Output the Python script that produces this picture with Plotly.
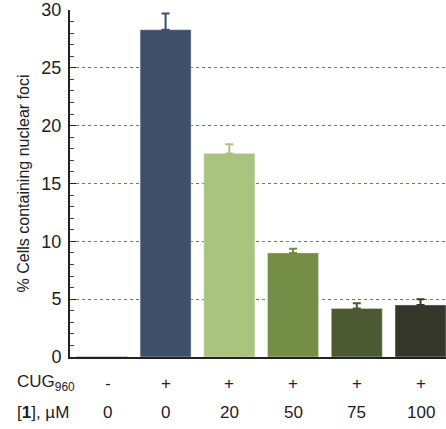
import plotly.graph_objects as go

categories = [0, 1, 2, 3, 4, 5]
values = [0.05, 28.3, 17.6, 9.0, 4.2, 4.5]
errors = [0, 1.4, 0.8, 0.35, 0.45, 0.5]
cug_labels = ["-", "+", "+", "+", "+", "+"]
conc_labels = ["0", "0", "20", "50", "75", "100"]
colors = ["#3f4f6a", "#3f4f6a", "#a9c47f", "#758e47", "#4c5a31", "#35372a"]
y_ticks = [0, 5, 10, 15, 20, 25, 30]

fig = go.Figure()
for i, (c, v, e, col) in enumerate(zip(categories, values, errors, colors)):
    fig.add_trace(go.Bar(
        x=[c], y=[v], width=0.8,
        marker=dict(color=col, line=dict(color="rgba(230,230,230,0.6)", width=0.8)),
        error_y=dict(type="data", array=[e], arrayminus=[0], symmetric=False,
                     color=col, thickness=2, width=4, visible=e > 0),
        showlegend=False,
    ))

font = "Liberation Sans, Arial, sans-serif"
annotations = []
for i, (c, t1, t2) in enumerate(zip(categories, cug_labels, conc_labels)):
    shift = 6 if i == 0 else 0
    annotations.append(dict(x=c, y=-0.075, xref="x", yref="paper", text=t1,
                            showarrow=False, xshift=shift, yanchor="middle",
                            font=dict(size=17, color="#222", family=font)))
    annotations.append(dict(x=c, y=-0.161, xref="x", yref="paper", text=t2,
                            showarrow=False, xshift=shift, yanchor="middle",
                            font=dict(size=17, color="#222", family=font)))
annotations.append(dict(x=-0.146, y=-0.075, xref="paper", yref="paper",
                        text="CUG<sub>960</sub>",
                        showarrow=False, xanchor="left", yanchor="middle",
                        font=dict(size=17, color="#222", family=font)))
annotations.append(dict(x=-0.146, y=-0.161, xref="paper", yref="paper",
                        text="[<b>1</b>], µM", showarrow=False, xanchor="left",
                        yanchor="middle",
                        font=dict(size=17, color="#222", family=font)))

fig.update_layout(
    width=446, height=429,
    margin=dict(l=70, r=0, t=10, b=72),
    paper_bgcolor="white", plot_bgcolor="white",
    barmode="overlay",
    font=dict(family=font, color="#222"),
    xaxis=dict(range=[-0.5, 5.4], showticklabels=False, showgrid=False,
               zeroline=False, showline=True, linecolor="#222", linewidth=2,
               ticks="", fixedrange=True),
    yaxis=dict(range=[0, 30], tickvals=y_ticks, ticks="inside", ticklen=6,
               tickcolor="#222", tickwidth=1.2,
               minor=dict(dtick=1, ticks="inside", ticklen=4, tickcolor="#444", showgrid=False),
               showline=True, linecolor="#222", linewidth=2,
               showgrid=True, gridcolor="#6e68d0", griddash="dot", gridwidth=1,
               zeroline=False, ticklabelstandoff=3,
               tickfont=dict(size=18, color="#222", family=font),
               title=dict(text="% Cells containing nuclear foci", standoff=8,
                          font=dict(size=16, color="#222", family=font))),
    annotations=annotations,
)
fig.write_html("out.html")
